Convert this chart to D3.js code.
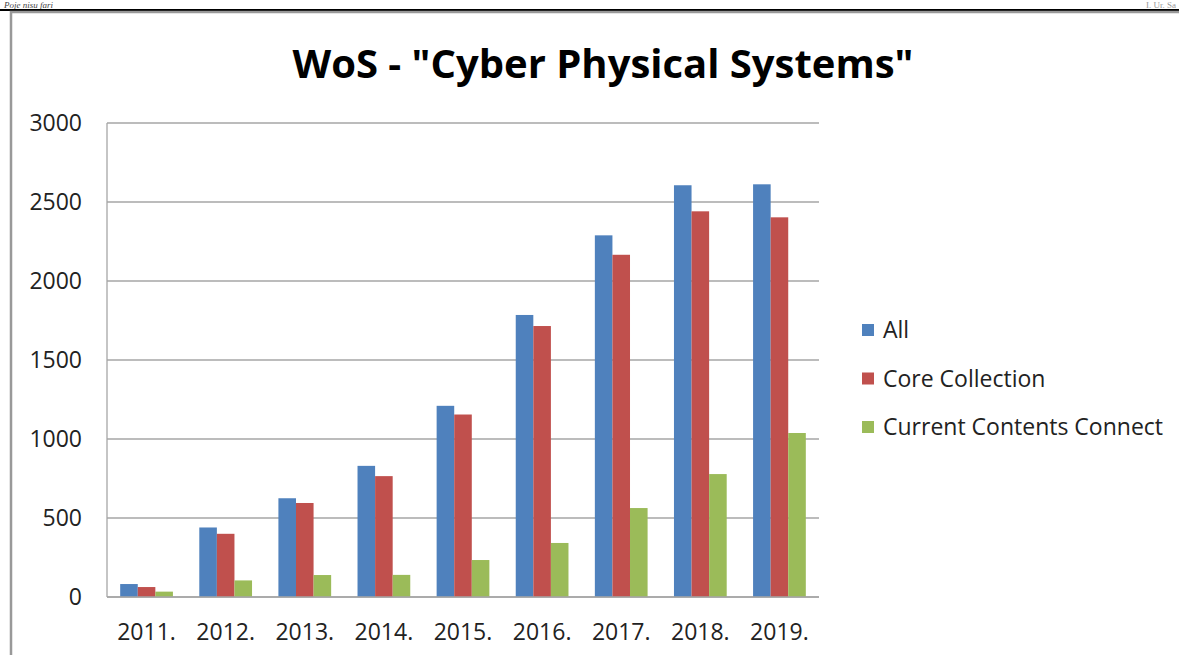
<!DOCTYPE html>
<html>
<head>
<meta charset="utf-8">
<script src="https://cdn.jsdelivr.net/npm/d3@7"></script>
<style>
  body { margin: 0; background: #fff; }
  svg { display: block; }
</style>
</head>
<body>
<div id="chart"></div>
<script>
// chart data
const years = ["2011.", "2012.", "2013.", "2014.", "2015.", "2016.", "2017.", "2018.", "2019."];
const seriesNames = ["All", "Core Collection", "Current Contents Connect"];
const allValues = [82, 440, 625, 830, 1210, 1785, 2289, 2606, 2612];
const coreValues = [63, 400, 595, 765, 1155, 1715, 2166, 2441, 2403];
const ccValues = [34, 105, 139, 140, 234, 342, 563, 778, 1038];
const yTicks = [0, 500, 1000, 1500, 2000, 2500, 3000];
const colors = ["#4f81bd", "#c0504d", "#9bbb59"];

const W = 1179, H = 655;
const font = "'Open Sans', 'Noto Sans', sans-serif";

let svg = d3.select("#chart")
    .append("svg")
    .attr("width", W)
    .attr("height", H);

// page header (mostly cut off in the source page)
svg.append("text")
    .attr("x", 4).attr("y", 8)
    .style("font-family", "'Liberation Serif', serif")
    .style("font-style", "italic")
    .style("font-size", "9px")
    .attr("fill", "#444")
    .text("Poje nisu fari");
svg.append("text")
    .attr("x", 1176).attr("y", 8)
    .attr("text-anchor", "end")
    .style("font-family", "'Liberation Serif', serif")
    .style("font-size", "9px")
    .attr("fill", "#999")
    .text("I. Ur. Sa");
svg.append("line")
    .attr("x1", 0).attr("x2", W).attr("y1", 10).attr("y2", 10)
    .attr("stroke", "#000").attr("stroke-width", 2);

// chart frame
svg.append("rect")
    .attr("x", 11).attr("y", 12)
    .attr("width", W + 20).attr("height", H + 20)
    .attr("fill", "none")
    .attr("stroke", "#999").attr("stroke-width", 2.5);

// title
svg.append("text")
    .attr("x", 603).attr("y", 78)
    .attr("text-anchor", "middle")
    .style("font-family", font)
    .style("font-weight", "bold")
    .style("font-size", "40px")
    .attr("fill", "#000")
    .text('WoS - "Cyber Physical Systems"');

// plot area
const plot = { left: 107, right: 819, top: 123, bottom: 597 };

let x = d3.scaleBand().domain(years).range([plot.left, plot.right]);
let y = d3.scaleLinear().domain([0, 3000]).range([plot.bottom, plot.top]);
// Excel gap width 150%: group of 3 bars, half gap on each side
let inner = d3.scaleBand().domain(seriesNames)
    .range([x.bandwidth() * 0.75 / 4.5, x.bandwidth() * (1 - 0.75 / 4.5)]);

// gridlines
svg.append("g")
    .selectAll("line")
    .data(yTicks)
    .enter()
    .append("line")
    .attr("x1", plot.left).attr("x2", plot.right)
    .attr("y1", d => y(d)).attr("y2", d => y(d))
    .attr("stroke", "#a6a6a6").attr("stroke-width", 1.3);

// left axis line
svg.append("line")
    .attr("x1", plot.left).attr("x2", plot.left)
    .attr("y1", plot.top).attr("y2", plot.bottom)
    .attr("stroke", "#a6a6a6").attr("stroke-width", 1.3);

// y tick labels
svg.append("g")
    .selectAll("text")
    .data(yTicks)
    .enter()
    .append("text")
    .attr("x", 82)
    .attr("y", d => y(d) + 8)
    .attr("text-anchor", "end")
    .style("font-family", font)
    .style("font-size", "23px")
    .attr("fill", "#222")
    .text(d => d);

// x tick labels
svg.append("g")
    .selectAll("text")
    .data(years)
    .enter()
    .append("text")
    .attr("x", d => x(d) + x.bandwidth() / 2)
    .attr("y", 640)
    .attr("text-anchor", "middle")
    .style("font-family", font)
    .style("font-size", "23px")
    .attr("fill", "#222")
    .text(d => d);

// bars
const seriesValues = [allValues, coreValues, ccValues];
seriesNames.forEach((name, i) => {
    svg.append("g")
        .selectAll("rect")
        .data(years.map((yr, j) => ({ year: yr, value: seriesValues[i][j] })))
        .enter()
        .append("rect")
        .attr("x", d => x(d.year) + inner(name))
        .attr("y", d => y(d.value))
        .attr("width", inner.bandwidth())
        .attr("height", d => y(0) - y(d.value))
        .attr("fill", colors[i]);
});

// redraw baseline over bars
svg.append("line")
    .attr("x1", plot.left).attr("x2", plot.right)
    .attr("y1", y(0)).attr("y2", y(0))
    .attr("stroke", "#a6a6a6").attr("stroke-width", 1.3);

// legend
let legend = svg.append("g");
seriesNames.forEach((name, i) => {
    let ly = 330 + i * 48.5;
    legend.append("rect")
        .attr("x", 862).attr("y", ly - 6)
        .attr("width", 12).attr("height", 12)
        .attr("fill", colors[i]);
    legend.append("text")
        .attr("x", 883).attr("y", ly + 8)
        .style("font-family", font)
        .style("font-size", "23px")
        .attr("fill", "#222")
        .text(name);
});
</script>
</body>
</html>
